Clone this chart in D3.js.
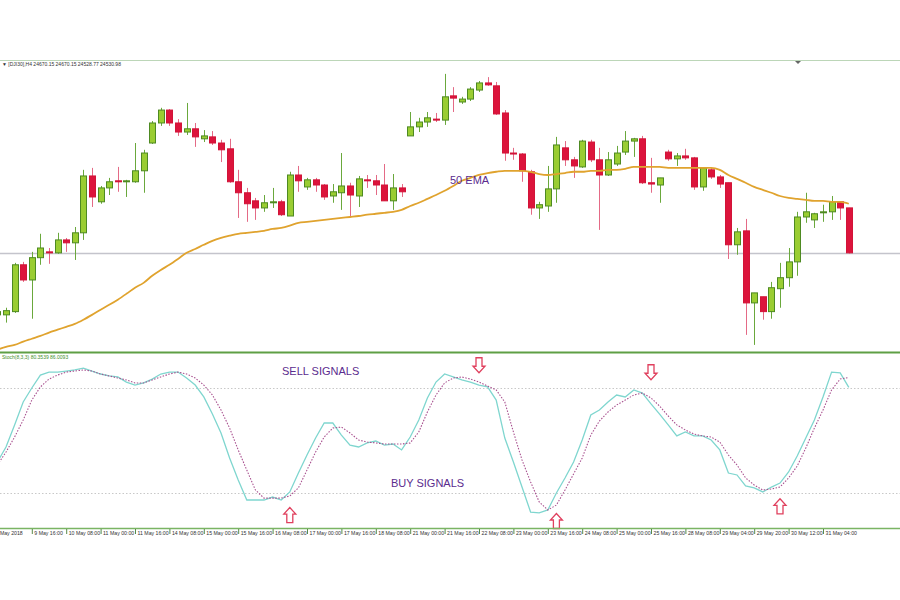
<!DOCTYPE html>
<html><head><meta charset="utf-8">
<script src="https://cdn.jsdelivr.net/npm/d3@7"></script>
<style>
html,body{margin:0;padding:0;background:#fff;}
svg{display:block;font-family:"Liberation Sans",Arial,sans-serif;}
</style></head>
<body><svg id="c" width="900" height="600"></svg>
<script>
// ---- DATA (DJI30, H4) ----
const openP = [24339,24339,24349,24494,24447,24516,24534,24531,24571,24562,
 24593,24769,24689,24732,24754,24751,24751,24785,24871,24933,
 24973,24933,24905,24915,24884,24890,24871,24853,24751,24717,
 24692,24670,24686,24689,24645,24772,24735,24757,24741,24707,
 24717,24738,24707,24757,24754,24741,24692,24732,24893,24921,
 24936,24945,24942,25017,24998,25007,25035,25057,25048,24964,
 24840,24837,24782,24670,24676,24729,24856,24819,24797,24874,
 24819,24772,24806,24843,24877,24884,24748,24741,24843,24822,
 24831,24825,24735,24788,24766,24748,24556,24599,24376,24395,
 24349,24420,24454,24503,24642,24633,24655,24658,24689,24670.15];
const highP = [24361,24361,24500,24503,24534,24590,24546,24593,24577,24611,
 24788,24794,24738,24763,24797,24757,24871,24850,24939,24980,
 24976,24945,24995,24933,24911,24908,24881,24884,24788,24732,
 24701,24710,24732,24695,24782,24800,24763,24763,24744,24744,
 24840,24748,24769,24772,24772,24806,24775,24744,24967,24949,
 24967,24964,25085,25044,25014,25044,25063,25075,25060,24973,
 24856,24840,24788,24689,24800,24890,24877,24828,24881,24881,
 24856,24843,24862,24908,24887,24893,24825,24763,24850,24840,
 24853,24828,24794,24794,24772,24748,24608,24636,24407,24395,
 24441,24500,24546,24658,24717,24655,24680,24707,24689,24670.15];
const lowP = [24330,24315,24345,24441,24327,24494,24497,24528,24534,24509,
 24571,24673,24683,24710,24720,24704,24748,24717,24868,24924,
 24924,24893,24896,24859,24874,24865,24812,24748,24639,24627,
 24633,24658,24670,24645,24645,24720,24726,24720,24695,24686,
 24664,24642,24673,24732,24710,24692,24664,24704,24893,24905,
 24921,24936,24927,24967,24992,25001,25029,25048,24958,24816,
 24819,24751,24649,24636,24658,24686,24800,24763,24794,24812,
 24602,24769,24800,24834,24828,24744,24717,24686,24816,24800,
 24819,24726,24723,24760,24732,24512,24525,24277,24246,24324,
 24327,24361,24426,24460,24624,24608,24627,24633,24633,24528.77];
const closeP = [24349,24352,24494,24447,24516,24546,24531,24571,24562,24593,
 24769,24704,24732,24751,24751,24754,24785,24840,24933,24973,
 24933,24905,24915,24890,24893,24871,24850,24751,24717,24683,
 24670,24686,24689,24649,24772,24754,24757,24741,24704,24720,
 24738,24710,24760,24754,24741,24692,24732,24720,24921,24936,
 24949,24942,25014,25010,25007,25038,25057,25051,24961,24840,
 24837,24785,24670,24680,24729,24865,24819,24800,24877,24819,
 24772,24819,24840,24877,24884,24748,24744,24763,24822,24831,
 24825,24735,24794,24766,24744,24556,24596,24376,24407,24349,
 24423,24454,24503,24642,24658,24652,24658,24689,24670,24530.98];
const ema50 = [24231,24240,24246,24256,24265,24274,24284,24293,24302,24311,
 24324,24339,24355,24370,24386,24404,24423,24438,24460,24478,
 24494,24512,24531,24543,24556,24568,24577,24584,24590,24593,
 24596,24599,24605,24608,24615,24624,24627,24630,24633,24636,
 24639,24642,24645,24649,24652,24655,24658,24664,24676,24686,
 24698,24710,24723,24738,24754,24763,24772,24778,24782,24785,
 24785,24785,24782,24775,24772,24775,24778,24782,24782,24785,
 24785,24788,24788,24791,24797,24797,24797,24797,24794,24794,
 24794,24794,24794,24794,24788,24772,24760,24748,24735,24726,
 24717,24707,24701,24698,24695,24692,24692,24689,24689,24683];
const stochK = [37.7,46.3,58.9,72,80,87.4,89.1,89.1,89.7,90.3,
 91.4,89.7,88,86.9,86.3,83.4,81.7,82.9,85.1,88,
 89.1,89.1,85.7,81.7,74.9,65.1,54.3,40,27.4,16,
 16,16,17.7,16,20.6,31.4,41.7,51.4,60,60,
 53.1,47.4,46.3,48.6,49.7,47.4,48,44.6,52,61.7,
 74.3,83.4,88,86.3,84.6,83.4,81.7,80.6,73.1,51.4,
 37.7,23.4,9.1,8.6,10.3,20,28.6,37.7,50.3,64.6,
 67.4,72,76,74.9,78.9,77.1,70.9,65.1,58.9,52.6,
 54.9,52.6,52.6,50.3,44.6,31.4,30.3,24,22.9,20.6,
 23.4,25.7,32,41.1,51.4,61.7,74.9,89.1,88.6,80.35];
const stochD = [36,43.4,52,61.7,73.1,80.6,85.1,87.4,89.1,89.7,
 90.3,89.7,88,86.9,85.7,84.6,82.9,82.9,84.6,86.3,
 88,89.1,88,85.7,81.7,76,67.4,57.1,44.6,33.1,
 21.7,17.1,17.1,17.1,18.3,22.9,33.1,43.4,52,57.1,
 57.7,54.3,50.3,49.1,48.6,48,48,48,48.6,54.9,
 66.3,76,82.9,85.7,86.3,85.1,83.4,81.1,78.9,72,
 54.9,38.9,26.3,14.9,10.3,13.1,21.7,30.9,40,53.1,
 61.1,66.3,70.3,73.1,76,77.1,74.3,69.7,64,58.9,
 56,53.7,52.6,52,49.1,41.7,36,28.6,24.6,21.7,
 22.3,23.4,28.6,35.4,45.7,57.1,67.4,78.9,85.1,86.01];
const tickLabels = ["May 2018","9 May 16:00","10 May 08:00","11 May 00:00","11 May 16:00",
 "14 May 08:00","15 May 00:00","15 May 16:00","16 May 08:00","17 May 00:00","17 May 16:00",
 "18 May 08:00","21 May 00:00","21 May 16:00","22 May 08:00","23 May 00:00","23 May 16:00",
 "24 May 08:00","25 May 00:00","25 May 16:00","28 May 08:00","29 May 04:00","29 May 20:00",
 "30 May 12:00","31 May 04:00"];
const tickIndex = [0,4,8,12,16,20,24,28,32,36,40,44,48,52,56,60,64,68,72,76,80,84,88,92,96];
const sellBars = [56, 76];
const sellLevels = [93, 89];
const buyBars = [34, 65, 91];
const buyLevels = [7.4, 4, 12.4];
const stochLevels = [80, 20];
const lastPrice = 24530.98;

// ---- DRAW ----
const W = 900;
const svg = d3.select("#c");
const idx = d3.range(openP.length);
const x = d3.scaleLinear().domain([0, 99]).range([-2.6, 848.8]);
const yP = d3.scaleLinear().domain([24224, 25128]).range([352, 60]);
const yS = d3.scaleLinear().domain([0, 100]).range([528, 353]);

const defs = svg.append("defs");
defs.append("clipPath").attr("id","cm").append("rect").attr("x",0).attr("y",60).attr("width",W).attr("height",292);
defs.append("clipPath").attr("id","cs").append("rect").attr("x",0).attr("y",353).attr("width",W).attr("height",175);

// frame lines
svg.append("line").attr("x1",0).attr("x2",W).attr("y1",60.5).attr("y2",60.5).attr("stroke","#bcd6b8").attr("stroke-width",1);
svg.append("path").attr("d","M795,61 L801,61 L798,64 Z").attr("fill","#666");

// main panel
const gm = svg.append("g").attr("clip-path","url(#cm)");
gm.append("line").attr("x1",0).attr("x2",W).attr("y1",Math.round(yP(lastPrice))+0.5).attr("y2",Math.round(yP(lastPrice))+0.5)
  .attr("stroke","#c4c4cc").attr("stroke-width",1.3);

const px = i => Math.round(x(i));
const up = i => closeP[i] >= openP[i];
gm.selectAll("line.wick").data(idx).join("line").attr("class","wick")
  .attr("x1", i => px(i)+0.5).attr("x2", i => px(i)+0.5)
  .attr("y1", i => yP(highP[i])).attr("y2", i => yP(lowP[i]))
  .attr("stroke", i => up(i) ? "#6aa83c" : "#e46a86").attr("stroke-width",1);
gm.selectAll("rect.body").data(idx).join("rect").attr("class","body")
  .attr("x", i => px(i)-2.5).attr("width",6)
  .attr("y", i => yP(Math.max(openP[i],closeP[i])))
  .attr("height", i => Math.max(1, Math.abs(yP(openP[i]) - yP(closeP[i]))))
  .attr("fill", i => up(i) ? "#9acd32" : "#dc143c")
  .attr("stroke", i => up(i) ? "#4e8a22" : "#d21438").attr("stroke-width",1);

gm.append("path").datum(idx)
  .attr("d", d3.line().x(i => x(i)).y(i => yP(ema50[i])).curve(d3.curveMonotoneX))
  .attr("fill","none").attr("stroke","#e0a32e").attr("stroke-width",1.8);

svg.append("text").attr("x",450).attr("y",yP(24757)+4).attr("font-size",11).attr("fill","#5b2c8e").text("50 EMA");
svg.append("text").attr("x",2).attr("y",66).attr("font-size",5).attr("fill","#333").text("\u25BC [DJI30],H4  24670.15 24670.15 24528.77 24530.98");

// separator
svg.append("line").attr("x1",0).attr("x2",W).attr("y1",352.5).attr("y2",352.5).attr("stroke","#5f9f45").attr("stroke-width",2);
svg.append("text").attr("x",2).attr("y",359).attr("font-size",5).attr("fill","#3f8f2a").text("Stoch(8,3,3) 80.3539 86.0093");

// stoch panel
const gs = svg.append("g").attr("clip-path","url(#cs)");
gs.selectAll("line.lvl").data(stochLevels).join("line").attr("class","lvl")
  .attr("x1",0).attr("x2",W).attr("y1", d => Math.round(yS(d))+0.5).attr("y2", d => Math.round(yS(d))+0.5)
  .attr("stroke","#c8c8c8").attr("stroke-width",1).attr("stroke-dasharray","1.5,2");
gs.append("path").datum(idx)
  .attr("d", d3.line().x(i => x(i)).y(i => yS(stochK[i])))
  .attr("fill","none").attr("stroke","#7fd6cf").attr("stroke-width",1.3);
gs.append("path").datum(idx)
  .attr("d", d3.line().x(i => x(i)).y(i => yS(stochD[i])))
  .attr("fill","none").attr("stroke","#a8508f").attr("stroke-width",1.1).attr("stroke-dasharray","1.5,1.5");

svg.append("text").attr("x",282).attr("y",yS(90)+4).attr("font-size",11).attr("fill","#5b2c8e").text("SELL SIGNALS");
svg.append("text").attr("x",391).attr("y",yS(25.7)+4).attr("font-size",11).attr("fill","#5b2c8e").text("BUY SIGNALS");

const arrowUp = "M0,-7.5 L6,-1 L3,-1 L3,7.5 L-3,7.5 L-3,-1 L-6,-1 Z";
const arrowDn = "M0,7.5 L6,1 L3,1 L3,-7.5 L-3,-7.5 L-3,1 L-6,1 Z";
svg.selectAll("path.sell").data(sellBars).join("path").attr("class","sell")
  .attr("d", arrowDn).attr("transform", (d,k) => `translate(${x(d)},${yS(sellLevels[k])})`)
  .attr("fill","#fff").attr("stroke","#e0405e").attr("stroke-width",1.3);
svg.selectAll("path.buy").data(buyBars).join("path").attr("class","buy")
  .attr("d", arrowUp).attr("transform", (d,k) => `translate(${x(d)},${yS(buyLevels[k])})`)
  .attr("fill","#fff").attr("stroke","#e0405e").attr("stroke-width",1.3);

// bottom axis
svg.append("line").attr("x1",0).attr("x2",W).attr("y1",528.5).attr("y2",528.5).attr("stroke","#7ab463").attr("stroke-width",1.5);
const ax = svg.append("g").attr("transform","translate(0,529)")
  .call(d3.axisBottom(x).tickValues(tickIndex).tickFormat((d,k) => tickLabels[k]).tickSize(5));
ax.select(".domain").remove();
ax.selectAll(".tick line").attr("stroke","#5a8a4a");
ax.selectAll(".tick text").attr("text-anchor","start").attr("x",2).attr("y",2).attr("dy","0.71em")
  .attr("font-size",5.2).attr("fill","#333").attr("font-family","'Liberation Sans',Arial,sans-serif");
</script>
</body></html>
